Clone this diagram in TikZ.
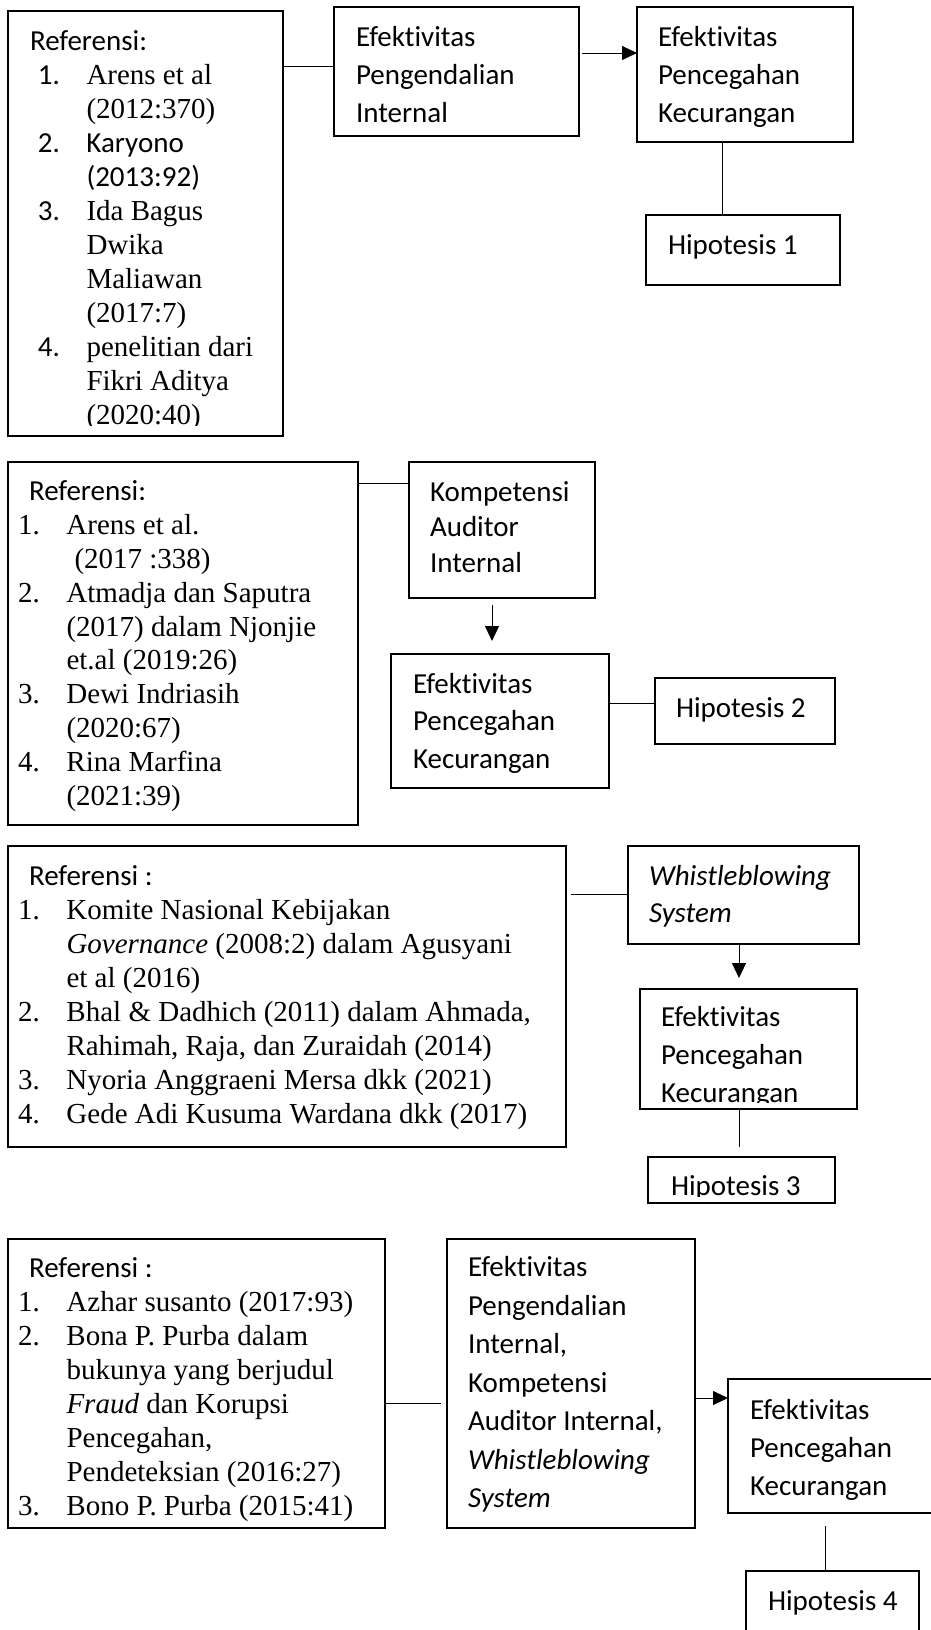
\documentclass[tikz,border=0pt]{standalone}
\usepackage{fontspec}
\usepackage{tikz}
\usetikzlibrary{positioning,arrows.meta}
\setmainfont{Liberation Serif}
\newfontfamily\calibri[RawFeature={-liga;-clig;-calt;-dlig}]{Carlito}
\newcommand{\refno}[1]{\makebox[48.5pt][l]{#1}}
\newcommand{\refgap}{\hspace*{48.5pt}}

\begin{document}
\begin{tikzpicture}[x=1pt, y=-1pt, every node/.style={inner sep=0pt, outer sep=0pt},
  box/.style={draw, line width=1.3pt, anchor=north west},
  reftext/.style={anchor=north west, align=left, font=\fontsize{29}{34}\selectfont},
  cal/.style={anchor=north west, align=left, font=\calibri\fontsize{29}{#1}\selectfont},
  link/.style={line width=0.9pt},
  arr/.style={line width=0.9pt, -{Triangle[length=15pt, width=14pt]}}]
  \useasboundingbox (0,0) rectangle (930,1630);

  % Hipotesis 1
  \node[box, minimum width=275pt, minimum height=425pt] (ref1) at (8,11) {};
  \node[box, minimum width=245pt, minimum height=129pt] (epi) at (334,7) {};
  \node[box, minimum width=216pt, minimum height=135pt] (epk1) at (637,7) {};
  \node[box, minimum width=194pt, minimum height=70pt] (h1) at (646,215) {};
  \begin{scope}
    \clip (ref1.north west) rectangle ([yshift=11pt]ref1.south east);
    \node[reftext, below right=15.2pt and 22pt of ref1.north west] (ref1txt) {%
      \strut{\calibri Referensi:}\\
      \hspace*{8pt}\refno{\calibri 1.}Arens et al\\
      \hspace*{8pt}\refgap(2012:370)\\
      \hspace*{8pt}\refno{\calibri 2.}{\calibri Karyono}\\
      \hspace*{8pt}\refgap{\calibri (2013:92)}\\
      \hspace*{8pt}\refno{\calibri 3.}Ida Bagus\\
      \hspace*{8pt}\refgap Dwika\\
      \hspace*{8pt}\refgap Maliawan\\
      \hspace*{8pt}\refgap(2017:7)\\
      \hspace*{8pt}\refno{\calibri 4.}penelitian dari\\
      \hspace*{8pt}\refgap Fikri Aditya\\
      \hspace*{8pt}\refgap(2020:40)};
  \end{scope}
  \node[cal=38, below right=12.4pt and 22pt of epi.north west] (epitxt)
    {\strut Efektivitas\\Pengendalian\\Internal};
  \node[cal=38, below right=12.4pt and 21pt of epk1.north west] (epk1txt)
    {\strut Efektivitas\\Pencegahan\\Kecurangan};
  \node[cal=38, below right=12.4pt and 22pt of h1.north west] (h1txt) {\strut Hipotesis 1};
  % links
  \coordinate (j1) at ([yshift=5.5pt]epi.west);
  \draw[link] (ref1.east |- j1) -- (j1);
  \coordinate (j2) at ([yshift=21.5pt]epk1.west);
  \draw[arr, shorten <=3pt] (epi.east |- j2) -- (j2);
  \coordinate (j3) at ([xshift=-21pt]h1.north);
  \draw[link] (epk1.south -| j3) -- (j3);

  % Hipotesis 2
  \node[box, minimum width=350pt, minimum height=363pt] (ref2) at (8,462) {};
  \node[box, minimum width=186pt, minimum height=136pt] (kai) at (409,462) {};
  \node[box, minimum width=218pt, minimum height=134pt] (epk2) at (391,654) {};
  \node[box, minimum width=180pt, minimum height=66pt] (h2) at (655,678) {};
  \node[reftext, font=\fontsize{29}{33.8}\selectfont, below right=15.3pt and 10pt of ref2.north west] (ref2txt) {%
    \strut\hspace*{11pt}{\calibri Referensi:}\\
    \refno{1.}Arens et al.\\
    \refgap\hspace*{8pt}(2017 :338)\\
    \refno{2.}Atmadja dan Saputra\\
    \refgap(2017) dalam Njonjie\\
    \refgap et.al (2019:26)\\
    \refno{3.}Dewi Indriasih\\
    \refgap(2020:67)\\
    \refno{4.}Rina Marfina\\
    \refgap(2021:39)};
  \node[cal=35.5, below right=14.2pt and 21pt of kai.north west] (kaitxt)
    {\strut Kompetensi\\Auditor\\Internal};
  \node[cal=37.5, below right=12.75pt and 22pt of epk2.north west] (epk2txt)
    {\strut Efektivitas\\Pencegahan\\Kecurangan};
  \node[cal=38, below right=12.4pt and 21pt of h2.north west] (h2txt) {\strut Hipotesis 2};
  % links
  \coordinate (j4) at ([yshift=47pt]kai.west);
  \draw[link] (ref2.east |- j4) -- (j4);
  \coordinate (j5) at ([xshift=-10pt]kai.south);
  \draw[arr, shorten <=7pt, shorten >=13pt] (j5) -- (j5 |- epk2.north);
  \coordinate (j6) at ([yshift=8pt]h2.west);
  \draw[link] (epk2.east |- j6) -- (j6);

  % Hipotesis 3
  \node[box, minimum width=558pt, minimum height=301pt] (ref3) at (8,846) {};
  \node[box, minimum width=231pt, minimum height=98pt] (ws) at (628,846) {};
  \node[box, minimum width=217pt, minimum height=120pt] (epk3) at (640,989) {};
  \node[box, minimum width=187pt, minimum height=46pt] (h3) at (648,1157) {};
  \node[reftext, below right=15.2pt and 10pt of ref3.north west] (ref3txt) {%
    \strut\hspace*{11pt}{\calibri Referensi :}\\
    \refno{1.}Komite Nasional Kebijakan\\
    \refgap\textit{Governance} (2008:2) dalam Agusyani\\
    \refgap et al (2016)\\
    \refno{2.}Bhal \& Dadhich (2011) dalam Ahmada,\\
    \refgap Rahimah, Raja, dan Zuraidah (2014)\\
    \refno{3.}Nyoria Anggraeni Mersa dkk (2021)\\
    \refno{4.}Gede Adi Kusuma Wardana dkk (2017)};
  \node[cal=37, below right=13.1pt and 21pt of ws.north west] (wstxt)
    {\strut\textit{Whistleblowing}\\\textit{System}};
  \begin{scope}
    \clip (epk3.north west) rectangle ([yshift=6.5pt]epk3.south east);
    \node[cal=38, below right=10.4pt and 21pt of epk3.north west] (epk3txt)
      {\strut Efektivitas\\Pencegahan\\Kecurangan};
  \end{scope}
  \begin{scope}
    \clip (h3.north west) rectangle ([yshift=7pt]h3.south east);
    \node[cal=38, below right=11.4pt and 23pt of h3.north west] (h3txt) {\strut Hipotesis 3};
  \end{scope}
  % links
  \coordinate (j7) at ([yshift=1pt]ws.west);
  \draw[link, shorten <=5pt] (ref3.east |- j7) -- (j7);
  \coordinate (j8) at ([xshift=-4.5pt]ws.south);
  \draw[arr, shorten >=11pt] (j8) -- (j8 |- epk3.north);
  \draw[link, shorten >=10pt] (j8 |- epk3.south) -- (j8 |- h3.north);

  % Hipotesis 4
  \node[box, minimum width=377pt, minimum height=289pt] (ref4) at (8,1239) {};
  \node[box, minimum width=248pt, minimum height=289pt] (mid4) at (447,1239) {};
  \node[box, minimum width=217pt, minimum height=134pt] (epk4) at (728,1379) {};
  \node[box, minimum width=173pt, minimum height=74pt] (h4) at (746,1571) {};
  \node[reftext, below right=14.2pt and 10pt of ref4.north west] (ref4txt) {%
    \strut\hspace*{11pt}{\calibri Referensi :}\\
    \refno{1.}Azhar susanto (2017:93)\\
    \refno{2.}Bona P. Purba dalam\\
    \refgap bukunya yang berjudul\\
    \refgap\textit{Fraud} dan Korupsi\\
    \refgap Pencegahan,\\
    \refgap Pendeteksian (2016:27)\\
    \refno{3.}Bono P. Purba (2015:41)};
  \node[cal=38.5, below right=11pt and 21pt of mid4.north west] (mid4txt)
    {\strut Efektivitas\\Pengendalian\\Internal,\\Kompetensi\\Auditor Internal,\\\textit{Whistleblowing}\\\textit{System}};
  \node[cal=38, below right=13.4pt and 22pt of epk4.north west] (epk4txt)
    {\strut Efektivitas\\Pencegahan\\Kecurangan};
  \node[cal=38, below right=12.4pt and 22pt of h4.north west] (h4txt) {\strut Hipotesis 4};
  % links
  \coordinate (j9) at ([yshift=-19.5pt]mid4.west);
  \draw[link, shorten >=6pt] (ref4.east |- j9) -- (j9);
  \coordinate (j10) at ([yshift=48pt]epk4.west);
  \draw[arr] (mid4.east |- j10) -- (j10);
  \coordinate (j11) at ([xshift=-7.5pt]h4.north);
  \draw[link, shorten <=13pt] (epk4.south -| j11) -- (j11);
\end{tikzpicture}
\end{document}
